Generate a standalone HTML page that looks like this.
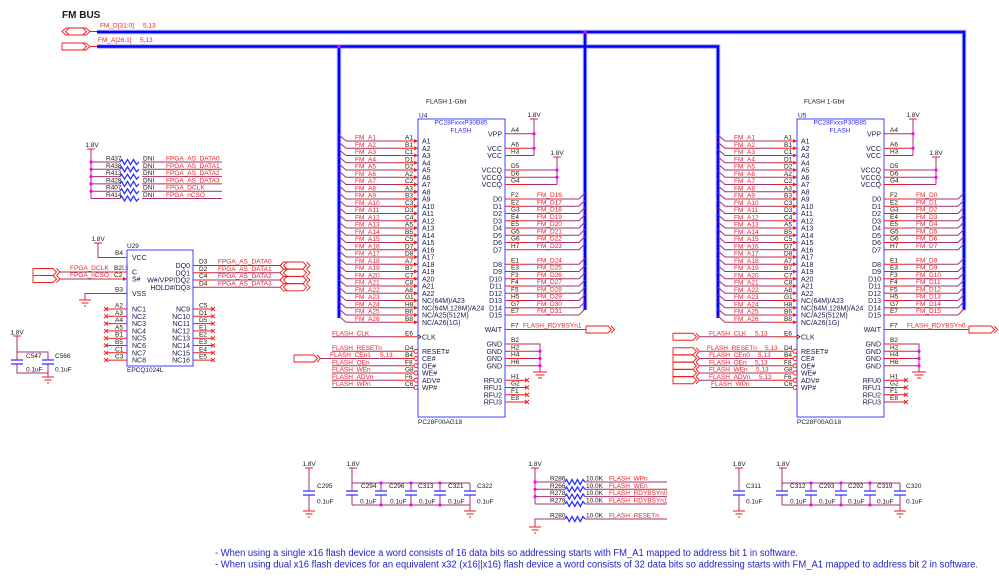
<!DOCTYPE html>
<html><head><meta charset="utf-8"><style>
body{margin:0;background:#fff}
svg{display:block}
text{font-family:"Liberation Sans",Arial,sans-serif;font-size:6.5px}
.r{fill:#f01c1c}
.k{fill:#1a1a1a}
.n{fill:#181848;font-size:7px}
.bl{fill:#2b2bff}
.e{text-anchor:end}
.m{text-anchor:middle}
.w{stroke:#a3306f;fill:none;stroke-width:1}
.p{stroke:#ee1c1c;fill:none;stroke-width:1}
.b{stroke:#4040ff;fill:none;stroke-width:1}
.z{stroke:#3030ff;fill:none;stroke-width:1.3}
.c{stroke:#ee1c1c;fill:none;stroke-width:0.9}
.d{fill:#ff00ff}
</style></head><body>
<svg width="999" height="584" viewBox="0 0 999 584" xmlns="http://www.w3.org/2000/svg">
<rect width="999" height="584" fill="#fff"/>

<!-- FM BUS header -->
<text x="62" y="18" style="font-size:10px;font-weight:bold" class="k">FM BUS</text>
<polygon class="c" points="62,31.5 66,28 86,28 90,31.5 86,35 66,35"/>
<path class="c" d="M69 28l-3.5 3.5 3.5 3.5M83 28l3.5 3.5-3.5 3.5M90 31.5h7"/>
<polygon class="c" points="62,43 86,43 90,46.5 86,50 62,50"/>
<path class="c" d="M83 43l3.5 3.5-3.5 3.5M90 46.5h7"/>
<text class="r" x="100" y="27.5">FM_D[31:0]</text><text class="r" x="143" y="27.5">5,13</text>
<text class="r" x="98" y="42">FM_A[26:1]</text><text class="r" x="140" y="42">5,13</text>

<!-- buses -->
<path d="M97 32H964V310M585 32V310M97 46.5H718V318M339 46.5V318" stroke="#a8a8ff" stroke-width="4.5" fill="none"/>
<path d="M97 32H964V310M585 32V310M97 46.5H718V318M339 46.5V318" stroke="#0000ff" stroke-width="2.5" fill="none"/>
<circle class="d" cx="585" cy="32" r="1.6"/><circle class="d" cx="339" cy="46.5" r="1.6"/>

<!-- ============ U4 ============ -->
<g>
<rect class="b" x="418" y="119" width="87" height="298"/>
<path class="w" d="M339 135L346 141H395M339 142.25L346 148.25H395M339 149.5L346 155.5H395M339 156.75L346 162.75H395M339 164L346 170H395M339 171.25L346 177.25H395M339 178.5L346 184.5H395M339 185.75L346 191.75H395M339 193L346 199H395M339 200.25L346 206.25H395M339 207.5L346 213.5H395M339 214.75L346 220.75H395M339 222L346 228H395M339 229.25L346 235.25H395M339 236.5L346 242.5H395M339 243.75L346 249.75H395M339 251L346 257H395M339 258.25L346 264.25H395M339 265.5L346 271.5H395M339 272.75L346 278.75H395M339 280L346 286H395M339 287.25L346 293.25H395M339 294.5L346 300.5H395M339 301.75L346 307.75H395M339 309L346 315H395M339 316.25L346 322.25H395"/>
<path class="w" d="M528 199H579L585 193M528 206.25H579L585 200.25M528 213.5H579L585 207.5M528 220.75H579L585 214.75M528 228H579L585 222M528 235.25H579L585 229.25M528 242.5H579L585 236.5M528 249.75H579L585 243.75M528 264.25H579L585 258.25M528 271.5H579L585 265.5M528 278.75H579L585 272.75M528 286H579L585 280M528 293.25H579L585 287.25M528 300.5H579L585 294.5M528 307.75H579L585 301.75M528 315H579L585 309M528 133.75H534M528 148.25H534M528 155.5H534M534 119V155.5M528 170H557M528 177.25H557M528 184.5H557M557 157V184.5M528 329.5H586M528 344H540V372M528 351.25H540M528 358.5H540M528 365.75H540"/>
<path class="w" d="M332 336.75H395M332 351.25H395M321 358.5H395M332 365.75H395M332 373H395M332 380.25H395M332 387.5H395"/>
<path class="p" d="M395 141h23M395 148.25h23M395 155.5h23M395 162.75h23M395 170h23M395 177.25h23M395 184.5h23M395 191.75h23M395 199h23M395 206.25h23M395 213.5h23M395 220.75h23M395 228h23M395 235.25h23M395 242.5h23M395 249.75h23M395 257h23M395 264.25h23M395 271.5h23M395 278.75h23M395 286h23M395 293.25h23M395 300.5h23M395 307.75h23M395 315h23M395 322.25h23M395 336.75h23M395 351.25h19M395 358.5h19M395 365.75h19M395 373h19M395 380.25h19M395 387.5h19M505 133.75h23M505 148.25h23M505 155.5h23M505 170h23M505 177.25h23M505 184.5h23M505 199h23M505 206.25h23M505 213.5h23M505 220.75h23M505 228h23M505 235.25h23M505 242.5h23M505 249.75h23M505 264.25h23M505 271.5h23M505 278.75h23M505 286h23M505 293.25h23M505 300.5h23M505 307.75h23M505 315h23M505 329.5h23M505 344h23M505 351.25h23M505 358.5h23M505 365.75h23M505 380.25h22M505 387.5h22M505 394.75h22M505 402h22M530 119h8M553 157h8M533 372h14M535.5 375h9M538 378h4M525 378.25l4 4m0-4l-4 4M525 385.5l4 4m0-4l-4 4M525 392.75l4 4m0-4l-4 4M525 400l4 4m0-4l-4 4"/>
<path fill="#ee1c1c" d="M414 139l4 2-4 2zM414 146.25l4 2-4 2zM414 153.5l4 2-4 2zM414 160.75l4 2-4 2zM414 168l4 2-4 2zM414 175.25l4 2-4 2zM414 182.5l4 2-4 2zM414 189.75l4 2-4 2zM414 197l4 2-4 2zM414 204.25l4 2-4 2zM414 211.5l4 2-4 2zM414 218.75l4 2-4 2zM414 226l4 2-4 2zM414 233.25l4 2-4 2zM414 240.5l4 2-4 2zM414 247.75l4 2-4 2zM414 255l4 2-4 2zM414 262.25l4 2-4 2zM414 269.5l4 2-4 2zM414 276.75l4 2-4 2zM414 284l4 2-4 2zM414 291.25l4 2-4 2zM414 298.5l4 2-4 2zM414 305.75l4 2-4 2zM414 313l4 2-4 2zM414 320.25l4 2-4 2z"/>
<g fill="#fff" stroke="#ee1c1c" stroke-width="0.9"><circle cx="416" cy="351.25" r="2"/><circle cx="416" cy="358.5" r="2"/><circle cx="416" cy="365.75" r="2"/><circle cx="416" cy="373" r="2"/><circle cx="416" cy="380.25" r="2"/><circle cx="416" cy="387.5" r="2"/></g>
<path d="M418 334.75l3 2-3 2" stroke="#181848" fill="none" stroke-width="0.8"/>
<g class="d"><circle cx="534" cy="133.75" r="1.6"/><circle cx="534" cy="148.25" r="1.6"/><circle cx="557" cy="170" r="1.6"/><circle cx="557" cy="177.25" r="1.6"/><circle cx="540" cy="351.25" r="1.6"/><circle cx="540" cy="358.5" r="1.6"/><circle cx="540" cy="365.75" r="1.6"/></g>
<text class="k" x="426" y="103.5">FLASH 1-Gbit</text>
<text class="n" x="419" y="117.5" style="font-size:6.5px">U4</text>
<text class="bl m" x="461" y="124.5">PC28FxxxP30B85</text>
<text class="bl m" x="461" y="132.5">FLASH</text>
<text class="n" x="418" y="424" style="font-size:6.5px">PC28F00AG18</text>
<text class="k m" x="534" y="117">1.8V</text><text class="k m" x="557" y="155">1.8V</text>
<text class="r"><tspan x="355" y="139.5">FM_A1</tspan><tspan x="355" y="146.75">FM_A2</tspan><tspan x="355" y="154">FM_A3</tspan><tspan x="355" y="161.25">FM_A4</tspan><tspan x="355" y="168.5">FM_A5</tspan><tspan x="355" y="175.75">FM_A6</tspan><tspan x="355" y="183">FM_A7</tspan><tspan x="355" y="190.25">FM_A8</tspan><tspan x="355" y="197.5">FM_A9</tspan><tspan x="355" y="204.75">FM_A10</tspan><tspan x="355" y="212">FM_A11</tspan><tspan x="355" y="219.25">FM_A12</tspan><tspan x="355" y="226.5">FM_A13</tspan><tspan x="355" y="233.75">FM_A14</tspan><tspan x="355" y="241">FM_A15</tspan><tspan x="355" y="248.25">FM_A16</tspan><tspan x="355" y="255.5">FM_A17</tspan><tspan x="355" y="262.75">FM_A18</tspan><tspan x="355" y="270">FM_A19</tspan><tspan x="355" y="277.25">FM_A20</tspan><tspan x="355" y="284.5">FM_A21</tspan><tspan x="355" y="291.75">FM_A22</tspan><tspan x="355" y="299">FM_A23</tspan><tspan x="355" y="306.25">FM_A24</tspan><tspan x="355" y="313.5">FM_A25</tspan><tspan x="355" y="320.75">FM_A26</tspan></text>
<text class="k"><tspan x="405" y="139.5">A1</tspan><tspan x="405" y="146.75">B1</tspan><tspan x="405" y="154">C1</tspan><tspan x="405" y="161.25">D1</tspan><tspan x="405" y="168.5">D2</tspan><tspan x="405" y="175.75">A2</tspan><tspan x="405" y="183">C2</tspan><tspan x="405" y="190.25">A3</tspan><tspan x="405" y="197.5">B3</tspan><tspan x="405" y="204.75">C3</tspan><tspan x="405" y="212">D3</tspan><tspan x="405" y="219.25">C4</tspan><tspan x="405" y="226.5">A5</tspan><tspan x="405" y="233.75">B5</tspan><tspan x="405" y="241">C5</tspan><tspan x="405" y="248.25">D7</tspan><tspan x="405" y="255.5">D8</tspan><tspan x="405" y="262.75">A7</tspan><tspan x="405" y="270">B7</tspan><tspan x="405" y="277.25">C7</tspan><tspan x="405" y="284.5">C8</tspan><tspan x="405" y="291.75">A8</tspan><tspan x="405" y="299">G1</tspan><tspan x="405" y="306.25">H8</tspan><tspan x="405" y="313.5">B6</tspan><tspan x="405" y="320.75">B8</tspan><tspan x="405" y="335.25">E6</tspan><tspan x="405" y="349.75">D4</tspan><tspan x="405" y="357">B4</tspan><tspan x="405" y="364.25">F8</tspan><tspan x="405" y="371.5">G8</tspan><tspan x="405" y="378.75">F6</tspan><tspan x="405" y="386">C6</tspan></text>
<text class="n"><tspan x="422" y="143.5">A1</tspan><tspan x="422" y="150.75">A2</tspan><tspan x="422" y="158">A3</tspan><tspan x="422" y="165.25">A4</tspan><tspan x="422" y="172.5">A5</tspan><tspan x="422" y="179.75">A6</tspan><tspan x="422" y="187">A7</tspan><tspan x="422" y="194.25">A8</tspan><tspan x="422" y="201.5">A9</tspan><tspan x="422" y="208.75">A10</tspan><tspan x="422" y="216">A11</tspan><tspan x="422" y="223.25">A12</tspan><tspan x="422" y="230.5">A13</tspan><tspan x="422" y="237.75">A14</tspan><tspan x="422" y="245">A15</tspan><tspan x="422" y="252.25">A16</tspan><tspan x="422" y="259.5">A17</tspan><tspan x="422" y="266.75">A18</tspan><tspan x="422" y="274">A19</tspan><tspan x="422" y="281.25">A20</tspan><tspan x="422" y="288.5">A21</tspan><tspan x="422" y="295.75">A22</tspan><tspan x="422" y="303">NC(64M)/A23</tspan><tspan x="422" y="310.25">NC(64M,128M)/A24</tspan><tspan x="422" y="317.5">NC/A25(512M)</tspan><tspan x="422" y="324.75">NC/A26(1G)</tspan><tspan x="422" y="339.25">CLK</tspan><tspan x="422" y="353.75">RESET#</tspan><tspan x="422" y="361">CE#</tspan><tspan x="422" y="368.25">OE#</tspan><tspan x="422" y="375.5">WE#</tspan><tspan x="422" y="382.75">ADV#</tspan><tspan x="422" y="390">WP#</tspan></text>
<text class="n e"><tspan x="502" y="136.25">VPP</tspan><tspan x="502" y="150.75">VCC</tspan><tspan x="502" y="158">VCC</tspan><tspan x="502" y="172.5">VCCQ</tspan><tspan x="502" y="179.75">VCCQ</tspan><tspan x="502" y="187">VCCQ</tspan><tspan x="502" y="201.5">D0</tspan><tspan x="502" y="208.75">D1</tspan><tspan x="502" y="216">D2</tspan><tspan x="502" y="223.25">D3</tspan><tspan x="502" y="230.5">D4</tspan><tspan x="502" y="237.75">D5</tspan><tspan x="502" y="245">D6</tspan><tspan x="502" y="252.25">D7</tspan><tspan x="502" y="266.75">D8</tspan><tspan x="502" y="274">D9</tspan><tspan x="502" y="281.25">D10</tspan><tspan x="502" y="288.5">D11</tspan><tspan x="502" y="295.75">D12</tspan><tspan x="502" y="303">D13</tspan><tspan x="502" y="310.25">D14</tspan><tspan x="502" y="317.5">D15</tspan><tspan x="502" y="332">WAIT</tspan><tspan x="502" y="346.5">GND</tspan><tspan x="502" y="353.75">GND</tspan><tspan x="502" y="361">GND</tspan><tspan x="502" y="368.25">GND</tspan><tspan x="502" y="382.75">RFU0</tspan><tspan x="502" y="390">RFU1</tspan><tspan x="502" y="397.25">RFU2</tspan><tspan x="502" y="404.5">RFU3</tspan></text>
<text class="k"><tspan x="511" y="131.75">A4</tspan><tspan x="511" y="146.25">A6</tspan><tspan x="511" y="153.5">H3</tspan><tspan x="511" y="168">D5</tspan><tspan x="511" y="175.25">D6</tspan><tspan x="511" y="182.5">G4</tspan><tspan x="511" y="197">F2</tspan><tspan x="511" y="204.25">E2</tspan><tspan x="511" y="211.5">G3</tspan><tspan x="511" y="218.75">E4</tspan><tspan x="511" y="226">E5</tspan><tspan x="511" y="233.25">G5</tspan><tspan x="511" y="240.5">G6</tspan><tspan x="511" y="247.75">H7</tspan><tspan x="511" y="262.25">E1</tspan><tspan x="511" y="269.5">E3</tspan><tspan x="511" y="276.75">F3</tspan><tspan x="511" y="284">F4</tspan><tspan x="511" y="291.25">F5</tspan><tspan x="511" y="298.5">H5</tspan><tspan x="511" y="305.75">G7</tspan><tspan x="511" y="313">E7</tspan><tspan x="511" y="327.5">F7</tspan><tspan x="511" y="342">B2</tspan><tspan x="511" y="349.25">H2</tspan><tspan x="511" y="356.5">H4</tspan><tspan x="511" y="363.75">H6</tspan><tspan x="511" y="378.25">H1</tspan><tspan x="511" y="385.5">G2</tspan><tspan x="511" y="392.75">F1</tspan><tspan x="511" y="400">E8</tspan></text>
<!-- U4 specific -->
<text class="r"><tspan x="537" y="197">FM_D16</tspan><tspan x="537" y="204.25">FM_D17</tspan><tspan x="537" y="211.5">FM_D18</tspan><tspan x="537" y="218.75">FM_D19</tspan><tspan x="537" y="226">FM_D20</tspan><tspan x="537" y="233.25">FM_D21</tspan><tspan x="537" y="240.5">FM_D22</tspan><tspan x="537" y="247.75">FM_D23</tspan><tspan x="537" y="262.25">FM_D24</tspan><tspan x="537" y="269.5">FM_D25</tspan><tspan x="537" y="276.75">FM_D26</tspan><tspan x="537" y="284">FM_D27</tspan><tspan x="537" y="291.25">FM_D28</tspan><tspan x="537" y="298.5">FM_D29</tspan><tspan x="537" y="305.75">FM_D30</tspan><tspan x="537" y="313">FM_D31</tspan></text>
<text class="r"><tspan x="523" y="327.5">FLASH_RDYBSYn1</tspan><tspan x="332" y="335.25">FLASH_CLK</tspan><tspan x="332" y="349.75">FLASH_RESETn</tspan><tspan x="330" y="357">FLASH_CEn1</tspan><tspan x="380" y="357">5,13</tspan><tspan x="332" y="364.25">FLASH_OEn</tspan><tspan x="332" y="371.5">FLASH_WEn</tspan><tspan x="332" y="378.75">FLASH_ADVn</tspan><tspan x="332" y="386">FLASH_WPn</tspan></text>
<polygon class="c" points="586,326 608,326 611.5,329.5 608,333 586,333"/><path class="c" d="M611 326l3.5 3.5-3.5 3.5"/>
<polygon class="c" points="294,355 314,355 317.5,358.5 314,362 294,362"/><path class="c" d="M317 355l3.5 3.5-3.5 3.5"/>
</g>

<!-- U5 data bus entries handled in group -->
<!-- ============ U5 ============ -->
<g transform="translate(379 0)">
<rect class="b" x="418" y="119" width="87" height="298"/>
<path class="w" d="M339 135L346 141H395M339 142.25L346 148.25H395M339 149.5L346 155.5H395M339 156.75L346 162.75H395M339 164L346 170H395M339 171.25L346 177.25H395M339 178.5L346 184.5H395M339 185.75L346 191.75H395M339 193L346 199H395M339 200.25L346 206.25H395M339 207.5L346 213.5H395M339 214.75L346 220.75H395M339 222L346 228H395M339 229.25L346 235.25H395M339 236.5L346 242.5H395M339 243.75L346 249.75H395M339 251L346 257H395M339 258.25L346 264.25H395M339 265.5L346 271.5H395M339 272.75L346 278.75H395M339 280L346 286H395M339 287.25L346 293.25H395M339 294.5L346 300.5H395M339 301.75L346 307.75H395M339 309L346 315H395M339 316.25L346 322.25H395"/>
<path class="w" d="M528 199H579L585 193M528 206.25H579L585 200.25M528 213.5H579L585 207.5M528 220.75H579L585 214.75M528 228H579L585 222M528 235.25H579L585 229.25M528 242.5H579L585 236.5M528 249.75H579L585 243.75M528 264.25H579L585 258.25M528 271.5H579L585 265.5M528 278.75H579L585 272.75M528 286H579L585 280M528 293.25H579L585 287.25M528 300.5H579L585 294.5M528 307.75H579L585 301.75M528 315H579L585 309M528 133.75H534M528 148.25H534M528 155.5H534M534 119V155.5M528 170H557M528 177.25H557M528 184.5H557M557 157V184.5M528 329.5H590M528 344H540V372M528 351.25H540M528 358.5H540M528 365.75H540"/>
<path class="w" d="M321 336.75H395M321 351.25H395M321 358.5H395M321 365.75H395M321 373H395M321 380.25H395M332 387.5H395"/>
<path class="p" d="M395 141h23M395 148.25h23M395 155.5h23M395 162.75h23M395 170h23M395 177.25h23M395 184.5h23M395 191.75h23M395 199h23M395 206.25h23M395 213.5h23M395 220.75h23M395 228h23M395 235.25h23M395 242.5h23M395 249.75h23M395 257h23M395 264.25h23M395 271.5h23M395 278.75h23M395 286h23M395 293.25h23M395 300.5h23M395 307.75h23M395 315h23M395 322.25h23M395 336.75h23M395 351.25h19M395 358.5h19M395 365.75h19M395 373h19M395 380.25h19M395 387.5h19M505 133.75h23M505 148.25h23M505 155.5h23M505 170h23M505 177.25h23M505 184.5h23M505 199h23M505 206.25h23M505 213.5h23M505 220.75h23M505 228h23M505 235.25h23M505 242.5h23M505 249.75h23M505 264.25h23M505 271.5h23M505 278.75h23M505 286h23M505 293.25h23M505 300.5h23M505 307.75h23M505 315h23M505 329.5h23M505 344h23M505 351.25h23M505 358.5h23M505 365.75h23M505 380.25h22M505 387.5h22M505 394.75h22M505 402h22M530 119h8M553 157h8M533 372h14M535.5 375h9M538 378h4M525 378.25l4 4m0-4l-4 4M525 385.5l4 4m0-4l-4 4M525 392.75l4 4m0-4l-4 4M525 400l4 4m0-4l-4 4"/>
<path fill="#ee1c1c" d="M414 139l4 2-4 2zM414 146.25l4 2-4 2zM414 153.5l4 2-4 2zM414 160.75l4 2-4 2zM414 168l4 2-4 2zM414 175.25l4 2-4 2zM414 182.5l4 2-4 2zM414 189.75l4 2-4 2zM414 197l4 2-4 2zM414 204.25l4 2-4 2zM414 211.5l4 2-4 2zM414 218.75l4 2-4 2zM414 226l4 2-4 2zM414 233.25l4 2-4 2zM414 240.5l4 2-4 2zM414 247.75l4 2-4 2zM414 255l4 2-4 2zM414 262.25l4 2-4 2zM414 269.5l4 2-4 2zM414 276.75l4 2-4 2zM414 284l4 2-4 2zM414 291.25l4 2-4 2zM414 298.5l4 2-4 2zM414 305.75l4 2-4 2zM414 313l4 2-4 2zM414 320.25l4 2-4 2z"/>
<g fill="#fff" stroke="#ee1c1c" stroke-width="0.9"><circle cx="416" cy="351.25" r="2"/><circle cx="416" cy="358.5" r="2"/><circle cx="416" cy="365.75" r="2"/><circle cx="416" cy="373" r="2"/><circle cx="416" cy="380.25" r="2"/><circle cx="416" cy="387.5" r="2"/></g>
<path d="M418 334.75l3 2-3 2" stroke="#181848" fill="none" stroke-width="0.8"/>
<g class="d"><circle cx="534" cy="133.75" r="1.6"/><circle cx="534" cy="148.25" r="1.6"/><circle cx="557" cy="170" r="1.6"/><circle cx="557" cy="177.25" r="1.6"/><circle cx="540" cy="351.25" r="1.6"/><circle cx="540" cy="358.5" r="1.6"/><circle cx="540" cy="365.75" r="1.6"/></g>
<text class="k" x="425" y="103.5">FLASH 1-Gbit</text>
<text class="n" x="419" y="117.5" style="font-size:6.5px">U5</text>
<text class="bl m" x="461" y="124.5">PC28FxxxP30B85</text>
<text class="bl m" x="461" y="132.5">FLASH</text>
<text class="n" x="418" y="424" style="font-size:6.5px">PC28F00AG18</text>
<text class="k m" x="534" y="117">1.8V</text><text class="k m" x="557" y="155">1.8V</text>
<text class="r"><tspan x="355" y="139.5">FM_A1</tspan><tspan x="355" y="146.75">FM_A2</tspan><tspan x="355" y="154">FM_A3</tspan><tspan x="355" y="161.25">FM_A4</tspan><tspan x="355" y="168.5">FM_A5</tspan><tspan x="355" y="175.75">FM_A6</tspan><tspan x="355" y="183">FM_A7</tspan><tspan x="355" y="190.25">FM_A8</tspan><tspan x="355" y="197.5">FM_A9</tspan><tspan x="355" y="204.75">FM_A10</tspan><tspan x="355" y="212">FM_A11</tspan><tspan x="355" y="219.25">FM_A12</tspan><tspan x="355" y="226.5">FM_A13</tspan><tspan x="355" y="233.75">FM_A14</tspan><tspan x="355" y="241">FM_A15</tspan><tspan x="355" y="248.25">FM_A16</tspan><tspan x="355" y="255.5">FM_A17</tspan><tspan x="355" y="262.75">FM_A18</tspan><tspan x="355" y="270">FM_A19</tspan><tspan x="355" y="277.25">FM_A20</tspan><tspan x="355" y="284.5">FM_A21</tspan><tspan x="355" y="291.75">FM_A22</tspan><tspan x="355" y="299">FM_A23</tspan><tspan x="355" y="306.25">FM_A24</tspan><tspan x="355" y="313.5">FM_A25</tspan><tspan x="355" y="320.75">FM_A26</tspan></text>
<text class="k"><tspan x="405" y="139.5">A1</tspan><tspan x="405" y="146.75">B1</tspan><tspan x="405" y="154">C1</tspan><tspan x="405" y="161.25">D1</tspan><tspan x="405" y="168.5">D2</tspan><tspan x="405" y="175.75">A2</tspan><tspan x="405" y="183">C2</tspan><tspan x="405" y="190.25">A3</tspan><tspan x="405" y="197.5">B3</tspan><tspan x="405" y="204.75">C3</tspan><tspan x="405" y="212">D3</tspan><tspan x="405" y="219.25">C4</tspan><tspan x="405" y="226.5">A5</tspan><tspan x="405" y="233.75">B5</tspan><tspan x="405" y="241">C5</tspan><tspan x="405" y="248.25">D7</tspan><tspan x="405" y="255.5">D8</tspan><tspan x="405" y="262.75">A7</tspan><tspan x="405" y="270">B7</tspan><tspan x="405" y="277.25">C7</tspan><tspan x="405" y="284.5">C8</tspan><tspan x="405" y="291.75">A8</tspan><tspan x="405" y="299">G1</tspan><tspan x="405" y="306.25">H8</tspan><tspan x="405" y="313.5">B6</tspan><tspan x="405" y="320.75">B8</tspan><tspan x="405" y="335.25">E6</tspan><tspan x="405" y="349.75">D4</tspan><tspan x="405" y="357">B4</tspan><tspan x="405" y="364.25">F8</tspan><tspan x="405" y="371.5">G8</tspan><tspan x="405" y="378.75">F6</tspan><tspan x="405" y="386">C6</tspan></text>
<text class="n"><tspan x="422" y="143.5">A1</tspan><tspan x="422" y="150.75">A2</tspan><tspan x="422" y="158">A3</tspan><tspan x="422" y="165.25">A4</tspan><tspan x="422" y="172.5">A5</tspan><tspan x="422" y="179.75">A6</tspan><tspan x="422" y="187">A7</tspan><tspan x="422" y="194.25">A8</tspan><tspan x="422" y="201.5">A9</tspan><tspan x="422" y="208.75">A10</tspan><tspan x="422" y="216">A11</tspan><tspan x="422" y="223.25">A12</tspan><tspan x="422" y="230.5">A13</tspan><tspan x="422" y="237.75">A14</tspan><tspan x="422" y="245">A15</tspan><tspan x="422" y="252.25">A16</tspan><tspan x="422" y="259.5">A17</tspan><tspan x="422" y="266.75">A18</tspan><tspan x="422" y="274">A19</tspan><tspan x="422" y="281.25">A20</tspan><tspan x="422" y="288.5">A21</tspan><tspan x="422" y="295.75">A22</tspan><tspan x="422" y="303">NC(64M)/A23</tspan><tspan x="422" y="310.25">NC(64M,128M)/A24</tspan><tspan x="422" y="317.5">NC/A25(512M)</tspan><tspan x="422" y="324.75">NC/A26(1G)</tspan><tspan x="422" y="339.25">CLK</tspan><tspan x="422" y="353.75">RESET#</tspan><tspan x="422" y="361">CE#</tspan><tspan x="422" y="368.25">OE#</tspan><tspan x="422" y="375.5">WE#</tspan><tspan x="422" y="382.75">ADV#</tspan><tspan x="422" y="390">WP#</tspan></text>
<text class="n e"><tspan x="502" y="136.25">VPP</tspan><tspan x="502" y="150.75">VCC</tspan><tspan x="502" y="158">VCC</tspan><tspan x="502" y="172.5">VCCQ</tspan><tspan x="502" y="179.75">VCCQ</tspan><tspan x="502" y="187">VCCQ</tspan><tspan x="502" y="201.5">D0</tspan><tspan x="502" y="208.75">D1</tspan><tspan x="502" y="216">D2</tspan><tspan x="502" y="223.25">D3</tspan><tspan x="502" y="230.5">D4</tspan><tspan x="502" y="237.75">D5</tspan><tspan x="502" y="245">D6</tspan><tspan x="502" y="252.25">D7</tspan><tspan x="502" y="266.75">D8</tspan><tspan x="502" y="274">D9</tspan><tspan x="502" y="281.25">D10</tspan><tspan x="502" y="288.5">D11</tspan><tspan x="502" y="295.75">D12</tspan><tspan x="502" y="303">D13</tspan><tspan x="502" y="310.25">D14</tspan><tspan x="502" y="317.5">D15</tspan><tspan x="502" y="332">WAIT</tspan><tspan x="502" y="346.5">GND</tspan><tspan x="502" y="353.75">GND</tspan><tspan x="502" y="361">GND</tspan><tspan x="502" y="368.25">GND</tspan><tspan x="502" y="382.75">RFU0</tspan><tspan x="502" y="390">RFU1</tspan><tspan x="502" y="397.25">RFU2</tspan><tspan x="502" y="404.5">RFU3</tspan></text>
<text class="k"><tspan x="511" y="131.75">A4</tspan><tspan x="511" y="146.25">A6</tspan><tspan x="511" y="153.5">H3</tspan><tspan x="511" y="168">D5</tspan><tspan x="511" y="175.25">D6</tspan><tspan x="511" y="182.5">G4</tspan><tspan x="511" y="197">F2</tspan><tspan x="511" y="204.25">E2</tspan><tspan x="511" y="211.5">G3</tspan><tspan x="511" y="218.75">E4</tspan><tspan x="511" y="226">E5</tspan><tspan x="511" y="233.25">G5</tspan><tspan x="511" y="240.5">G6</tspan><tspan x="511" y="247.75">H7</tspan><tspan x="511" y="262.25">E1</tspan><tspan x="511" y="269.5">E3</tspan><tspan x="511" y="276.75">F3</tspan><tspan x="511" y="284">F4</tspan><tspan x="511" y="291.25">F5</tspan><tspan x="511" y="298.5">H5</tspan><tspan x="511" y="305.75">G7</tspan><tspan x="511" y="313">E7</tspan><tspan x="511" y="327.5">F7</tspan><tspan x="511" y="342">B2</tspan><tspan x="511" y="349.25">H2</tspan><tspan x="511" y="356.5">H4</tspan><tspan x="511" y="363.75">H6</tspan><tspan x="511" y="378.25">H1</tspan><tspan x="511" y="385.5">G2</tspan><tspan x="511" y="392.75">F1</tspan><tspan x="511" y="400">E8</tspan></text>
<!-- U5 specific -->
<text class="r"><tspan x="537" y="197">FM_D0</tspan><tspan x="537" y="204.25">FM_D1</tspan><tspan x="537" y="211.5">FM_D2</tspan><tspan x="537" y="218.75">FM_D3</tspan><tspan x="537" y="226">FM_D4</tspan><tspan x="537" y="233.25">FM_D5</tspan><tspan x="537" y="240.5">FM_D6</tspan><tspan x="537" y="247.75">FM_D7</tspan><tspan x="537" y="262.25">FM_D8</tspan><tspan x="537" y="269.5">FM_D9</tspan><tspan x="537" y="276.75">FM_D10</tspan><tspan x="537" y="284">FM_D11</tspan><tspan x="537" y="291.25">FM_D12</tspan><tspan x="537" y="298.5">FM_D13</tspan><tspan x="537" y="305.75">FM_D14</tspan><tspan x="537" y="313">FM_D15</tspan></text>
<text class="r"><tspan x="528" y="327.5">FLASH_RDYBSYn0</tspan><tspan x="330" y="335.25">FLASH_CLK</tspan><tspan x="376" y="335.25">5,13</tspan><tspan x="328" y="349.75">FLASH_RESETn</tspan><tspan x="386" y="349.75">5,13</tspan><tspan x="330" y="357">FLASH_CEn0</tspan><tspan x="379" y="357">5,13</tspan><tspan x="330" y="364.25">FLASH_OEn</tspan><tspan x="376" y="364.25">5,13</tspan><tspan x="330" y="371.5">FLASH_WEn</tspan><tspan x="377" y="371.5">5,13</tspan><tspan x="330" y="378.75">FLASH_ADVn</tspan><tspan x="380" y="378.75">5,13</tspan><tspan x="332" y="386">FLASH_WPn</tspan></text>
<polygon class="c" points="590,326 612,326 615.5,329.5 612,333 590,333"/><path class="c" d="M615 326l3.5 3.5-3.5 3.5"/>
<polygon class="c" points="294,333.25 314,333.25 317.5,336.75 314,340.25 294,340.25"/><path class="c" d="M317 333.25l3.5 3.5-3.5 3.5"/>
<polygon class="c" points="294,347.75 314,347.75 317.5,351.25 314,354.75 294,354.75"/><path class="c" d="M317 347.75l3.5 3.5-3.5 3.5"/>
<polygon class="c" points="294,355 314,355 317.5,358.5 314,362 294,362"/><path class="c" d="M317 355l3.5 3.5-3.5 3.5"/>
<polygon class="c" points="294,362.25 314,362.25 317.5,365.75 314,369.25 294,369.25"/><path class="c" d="M317 362.25l3.5 3.5-3.5 3.5"/>
<polygon class="c" points="294,369.5 314,369.5 317.5,373 314,376.5 294,376.5"/><path class="c" d="M317 369.5l3.5 3.5-3.5 3.5"/>
<polygon class="c" points="294,376.75 314,376.75 317.5,380.25 314,383.75 294,383.75"/><path class="c" d="M317 376.75l3.5 3.5-3.5 3.5"/>
</g>

<!-- ============ Pull-up resistors (DNI) ============ -->
<text class="k m" x="92" y="147">1.8V</text>
<path class="p" d="M87 149h8"/>
<path class="w" d="M91 149V198.5M91 162H120M142 162H222M91 169.3H120M142 169.3H222M91 176.6H120M142 176.6H222M91 183.9H120M142 183.9H222M91 191.2H120M142 191.2H222M91 198.5H120M142 198.5H222"/>
<path class="z" stroke-width="1" d="M120 162l1.5-2.5 3 5 3-5 3 5 3-5 3 5 2.5-2.5M120 169.3l1.5-2.5 3 5 3-5 3 5 3-5 3 5 2.5-2.5M120 176.6l1.5-2.5 3 5 3-5 3 5 3-5 3 5 2.5-2.5M120 183.9l1.5-2.5 3 5 3-5 3 5 3-5 3 5 2.5-2.5M120 191.2l1.5-2.5 3 5 3-5 3 5 3-5 3 5 2.5-2.5M120 198.5l1.5-2.5 3 5 3-5 3 5 3-5 3 5 2.5-2.5"/>
<g class="d"><circle cx="91" cy="162" r="1.6"/><circle cx="91" cy="169.3" r="1.6"/><circle cx="91" cy="176.6" r="1.6"/><circle cx="91" cy="183.9" r="1.6"/><circle cx="91" cy="191.2" r="1.6"/></g>
<text class="k"><tspan x="106" y="160.5">R437</tspan><tspan x="106" y="167.8">R438</tspan><tspan x="106" y="175.1">R413</tspan><tspan x="106" y="182.4">R428</tspan><tspan x="106" y="189.7">R407</tspan><tspan x="106" y="197">R414</tspan><tspan x="143" y="160.5">DNI</tspan><tspan x="143" y="167.8">DNI</tspan><tspan x="143" y="175.1">DNI</tspan><tspan x="143" y="182.4">DNI</tspan><tspan x="143" y="189.7">DNI</tspan><tspan x="143" y="197">DNI</tspan></text>
<text class="r"><tspan x="166" y="160.5">FPGA_AS_DATA0</tspan><tspan x="166" y="167.8">FPGA_AS_DATA1</tspan><tspan x="166" y="175.1">FPGA_AS_DATA2</tspan><tspan x="166" y="182.4">FPGA_AS_DATA3</tspan><tspan x="166" y="189.7">FPGA_DCLK</tspan><tspan x="166" y="197">FPGA_nCSO</tspan></text>

<!-- ============ U29 EPCQ ============ -->
<rect class="b" x="127" y="250" width="66" height="116"/>
<text class="n" x="127" y="248" style="font-size:6.5px">U29</text>
<text class="n" x="127" y="372" style="font-size:6.5px">EPCQ1024L</text>
<text class="k m" x="98" y="241">1.8V</text>
<path class="w" d="M98 243V257.5H107M60 272H107M60 279H107M85 300V293.5H107M213 265.5H280M213 272.8H280M213 280H280M213 287.3H280"/>
<path class="p" d="M94 243h8M107 257.5H127M107 272H127M107 279H127M107 293.5H127M106 309H127M106 316.3H127M106 323.6H127M106 330.9H127M106 338.2H127M106 345.5H127M106 352.8H127M106 360.1H127M193 265.5H213M193 272.8H213M193 280H213M193 287.3H213M193 309H213M193 316.3H213M193 323.6H213M193 330.9H213M193 338.2H213M193 345.5H213M193 352.8H213M193 360.1H213M79 300h12M81.5 303h7M84 306h2"/>
<path class="c" d="M104 307l4 4m0-4l-4 4M104 314.3l4 4m0-4l-4 4M104 321.6l4 4m0-4l-4 4M104 328.9l4 4m0-4l-4 4M104 336.2l4 4m0-4l-4 4M104 343.5l4 4m0-4l-4 4M104 350.8l4 4m0-4l-4 4M104 358.1l4 4m0-4l-4 4M211 307l4 4m0-4l-4 4M211 314.3l4 4m0-4l-4 4M211 321.6l4 4m0-4l-4 4M211 328.9l4 4m0-4l-4 4M211 336.2l4 4m0-4l-4 4M211 343.5l4 4m0-4l-4 4M211 350.8l4 4m0-4l-4 4M211 358.1l4 4m0-4l-4 4"/>
<path fill="#ee1c1c" d="M123 277l4 2-4 2z"/>
<text class="k"><tspan x="115" y="255">B4</tspan><tspan x="114" y="270">B2</tspan><tspan x="114" y="277">C2</tspan><tspan x="115" y="291.5">B3</tspan><tspan x="115" y="307.5">A2</tspan><tspan x="115" y="314.8">A3</tspan><tspan x="115" y="322.1">A4</tspan><tspan x="115" y="329.4">A5</tspan><tspan x="115" y="336.7">B1</tspan><tspan x="115" y="344">B5</tspan><tspan x="115" y="351.3">C1</tspan><tspan x="115" y="358.6">C3</tspan><tspan x="199" y="263.5">D3</tspan><tspan x="199" y="270.8">D2</tspan><tspan x="199" y="278">C4</tspan><tspan x="199" y="285.3">D4</tspan><tspan x="199" y="307.5">C5</tspan><tspan x="199" y="314.8">D1</tspan><tspan x="199" y="322.1">D5</tspan><tspan x="199" y="329.4">E1</tspan><tspan x="199" y="336.7">E2</tspan><tspan x="199" y="344">E3</tspan><tspan x="199" y="351.3">E4</tspan><tspan x="199" y="358.6">E5</tspan></text>
<text class="n"><tspan x="132" y="260">VCC</tspan><tspan x="132" y="274.5">C</tspan><tspan x="132" y="281.5">S#</tspan><tspan x="132" y="296">VSS</tspan><tspan x="132" y="311.5">NC1</tspan><tspan x="132" y="318.8">NC2</tspan><tspan x="132" y="326.1">NC3</tspan><tspan x="132" y="333.4">NC4</tspan><tspan x="132" y="340.7">NC5</tspan><tspan x="132" y="348">NC6</tspan><tspan x="132" y="355.3">NC7</tspan><tspan x="132" y="362.6">NC8</tspan></text>
<text class="n e"><tspan x="190" y="268">DQ0</tspan><tspan x="190" y="275.3">DQ1</tspan><tspan x="190" y="282.5">W#/VPP/DQ2</tspan><tspan x="190" y="289.8">HOLD#/DQ3</tspan><tspan x="190" y="311.5">NC9</tspan><tspan x="190" y="318.8">NC10</tspan><tspan x="190" y="326.1">NC11</tspan><tspan x="190" y="333.4">NC12</tspan><tspan x="190" y="340.7">NC13</tspan><tspan x="190" y="348">NC14</tspan><tspan x="190" y="355.3">NC15</tspan><tspan x="190" y="362.6">NC16</tspan></text>
<text class="r"><tspan x="70" y="270">FPGA_DCLK</tspan><tspan x="121" y="270">13</tspan><tspan x="70" y="277">FPGA_nCSO</tspan><tspan x="218" y="263.5">FPGA_AS_DATA0</tspan><tspan x="218" y="270.8">FPGA_AS_DATA1</tspan><tspan x="218" y="278">FPGA_AS_DATA2</tspan><tspan x="218" y="285.3">FPGA_AS_DATA3</tspan></text>
<polygon class="c" points="33,268.5 53,268.5 56.5,272 53,275.5 33,275.5"/><path class="c" d="M56.5 268.5l3.5 3.5-3.5 3.5"/>
<polygon class="c" points="33,275.5 53,275.5 56.5,279 53,282.5 33,282.5"/><path class="c" d="M56.5 275.5l3.5 3.5-3.5 3.5"/>
<polygon class="c" points="280,265.5 283.5,262 303,262 306.5,265.5 303,269 283.5,269"/><path class="c" d="M287 262l-3.5 3.5 3.5 3.5M306.5 262l3.5 3.5-3.5 3.5"/>
<polygon class="c" points="280,272.8 283.5,269.3 303,269.3 306.5,272.8 303,276.3 283.5,276.3"/><path class="c" d="M287 269.3l-3.5 3.5 3.5 3.5M306.5 269.3l3.5 3.5-3.5 3.5"/>
<polygon class="c" points="280,280 283.5,276.5 303,276.5 306.5,280 303,283.5 283.5,283.5"/><path class="c" d="M287 276.5l-3.5 3.5 3.5 3.5M306.5 276.5l3.5 3.5-3.5 3.5"/>
<polygon class="c" points="280,287.3 283.5,283.8 303,283.8 306.5,287.3 303,290.8 283.5,290.8"/><path class="c" d="M287 283.8l-3.5 3.5 3.5 3.5M306.5 283.8l3.5 3.5-3.5 3.5"/>

<!-- C547 / C566 -->
<text class="k m" x="17" y="334.5">1.8V</text>
<path class="p" d="M13 336h8M45 377h6M42 377h12M44.5 380h7M47 383h2"/>
<path class="w" d="M17 336V360M17 352H48V360M17 364V373H48V364M48 373V377"/>
<path class="z" d="M11 360h12M11 364h12M42 360h12M42 364h12"/>
<text class="k"><tspan x="26" y="358">C547</tspan><tspan x="55" y="358">C566</tspan><tspan x="26" y="371.5">0.1uF</tspan><tspan x="55" y="371.5">0.1uF</tspan></text>

<!-- ============ Bottom decoupling caps (left) ============ -->
<g id="capsA">
<path class="p" d="M305 468h8M303 511h12M305.5 514h7M308 517h2M349 468h8M464 511h12M466.5 514h7M469 517h2"/>
<path class="w" d="M309 468V491M309 495V511M352 468V491M352 483H470M381 483V491M411 483V491M440 483V491M470 483V491M352 495V505M381 495V505M411 495V505M440 495V505M470 495V511M352 505H470"/>
<path class="z" d="M303 491h12M303 495h12M346 491h12M346 495h12M375 491h12M375 495h12M405 491h12M405 495h12M434 491h12M434 495h12M464 491h12M464 495h12"/>
<g class="d"><circle cx="381" cy="483" r="1.6"/><circle cx="411" cy="483" r="1.6"/><circle cx="440" cy="483" r="1.6"/><circle cx="381" cy="505" r="1.6"/><circle cx="411" cy="505" r="1.6"/><circle cx="440" cy="505" r="1.6"/></g>
</g>
<text class="k m"><tspan x="309" y="466">1.8V</tspan><tspan x="353" y="466">1.8V</tspan></text>
<text class="k"><tspan x="317" y="488">C295</tspan><tspan x="361" y="488">C294</tspan><tspan x="389" y="488">C296</tspan><tspan x="418" y="488">C313</tspan><tspan x="448" y="488">C321</tspan><tspan x="477" y="488">C322</tspan><tspan x="317" y="503.5">0.1uF</tspan><tspan x="360" y="503.5">0.1uF</tspan><tspan x="390" y="503.5">0.1uF</tspan><tspan x="419" y="503.5">0.1uF</tspan><tspan x="448" y="503.5">0.1uF</tspan><tspan x="477" y="503.5">0.1uF</tspan></text>

<!-- Bottom caps (right) -->
<g transform="translate(430 0)">
<path class="p" d="M305 468h8M303 511h12M305.5 514h7M308 517h2M349 468h8M464 511h12M466.5 514h7M469 517h2"/>
<path class="w" d="M309 468V491M309 495V511M352 468V491M352 483H470M381 483V491M411 483V491M440 483V491M470 483V491M352 495V505M381 495V505M411 495V505M440 495V505M470 495V511M352 505H470"/>
<path class="z" d="M303 491h12M303 495h12M346 491h12M346 495h12M375 491h12M375 495h12M405 491h12M405 495h12M434 491h12M434 495h12M464 491h12M464 495h12"/>
<g class="d"><circle cx="381" cy="483" r="1.6"/><circle cx="411" cy="483" r="1.6"/><circle cx="440" cy="483" r="1.6"/><circle cx="381" cy="505" r="1.6"/><circle cx="411" cy="505" r="1.6"/><circle cx="440" cy="505" r="1.6"/></g>
</g>
<text class="k m"><tspan x="739" y="466">1.8V</tspan><tspan x="783" y="466">1.8V</tspan></text>
<text class="k"><tspan x="746" y="488">C311</tspan><tspan x="790" y="488">C312</tspan><tspan x="819" y="488">C293</tspan><tspan x="848" y="488">C292</tspan><tspan x="877" y="488">C319</tspan><tspan x="906" y="488">C320</tspan><tspan x="746" y="503.5">0.1uF</tspan><tspan x="790" y="503.5">0.1uF</tspan><tspan x="819" y="503.5">0.1uF</tspan><tspan x="848" y="503.5">0.1uF</tspan><tspan x="877" y="503.5">0.1uF</tspan><tspan x="906" y="503.5">0.1uF</tspan></text>

<!-- ============ Bottom pull resistors ============ -->
<text class="k m" x="535" y="466">1.8V</text>
<path class="p" d="M531 468h8M529 527h12M531.5 530h7M534 533h2"/>
<path class="w" d="M535 468V504M535 482H565M585 482H667M535 489.3H565M585 489.3H667M535 496.6H565M585 496.6H667M535 504H565M585 504H667M565 519H535V527M585 519H667"/>
<path class="z" stroke-width="1" d="M565 482l1.5-2.5 2.75 5 2.75-5 2.75 5 2.75-5 2.75 5 2.75-5 2 2.5M565 489.3l1.5-2.5 2.75 5 2.75-5 2.75 5 2.75-5 2.75 5 2.75-5 2 2.5M565 496.6l1.5-2.5 2.75 5 2.75-5 2.75 5 2.75-5 2.75 5 2.75-5 2 2.5M565 504l1.5-2.5 2.75 5 2.75-5 2.75 5 2.75-5 2.75 5 2.75-5 2 2.5M565 519l1.5-2.5 2.75 5 2.75-5 2.75 5 2.75-5 2.75 5 2.75-5 2 2.5"/>
<g class="d"><circle cx="535" cy="482" r="1.6"/><circle cx="535" cy="489.3" r="1.6"/><circle cx="535" cy="496.6" r="1.6"/></g>
<text class="k"><tspan x="550" y="480.5">R286</tspan><tspan x="550" y="487.8">R266</tspan><tspan x="550" y="495.1">R278</tspan><tspan x="550" y="502.5">R279</tspan><tspan x="550" y="517.5">R280</tspan><tspan x="586" y="480.5">10.0K</tspan><tspan x="586" y="487.8">10.0K</tspan><tspan x="586" y="495.1">10.0K</tspan><tspan x="586" y="502.5">10.0K</tspan><tspan x="586" y="517.5">10.0K</tspan></text>
<text class="r"><tspan x="609" y="480.5">FLASH_WPn</tspan><tspan x="609" y="487.8">FLASH_WEn</tspan><tspan x="609" y="495.1">FLASH_RDYBSYn0</tspan><tspan x="609" y="502.5">FLASH_RDYBSYn1</tspan><tspan x="609" y="517.5">FLASH_RESETn</tspan></text>

<!-- Notes -->
<text x="215" y="556" style="font-size:10px" fill="#2222cc" textLength="583" lengthAdjust="spacingAndGlyphs">- When using a single x16 flash device a word consists of 16 data bits so addressing starts with FM_A1 mapped to address bit 1 in software.</text>
<text x="215" y="567.5" style="font-size:10px" fill="#2222cc" textLength="763" lengthAdjust="spacingAndGlyphs">- When using dual x16 flash devices for an equivalent x32 (x16||x16) flash device a word consists of 32 data bits so addressing starts with FM_A1 mapped to address bit 2 in software.</text>
</svg>
</body></html>
